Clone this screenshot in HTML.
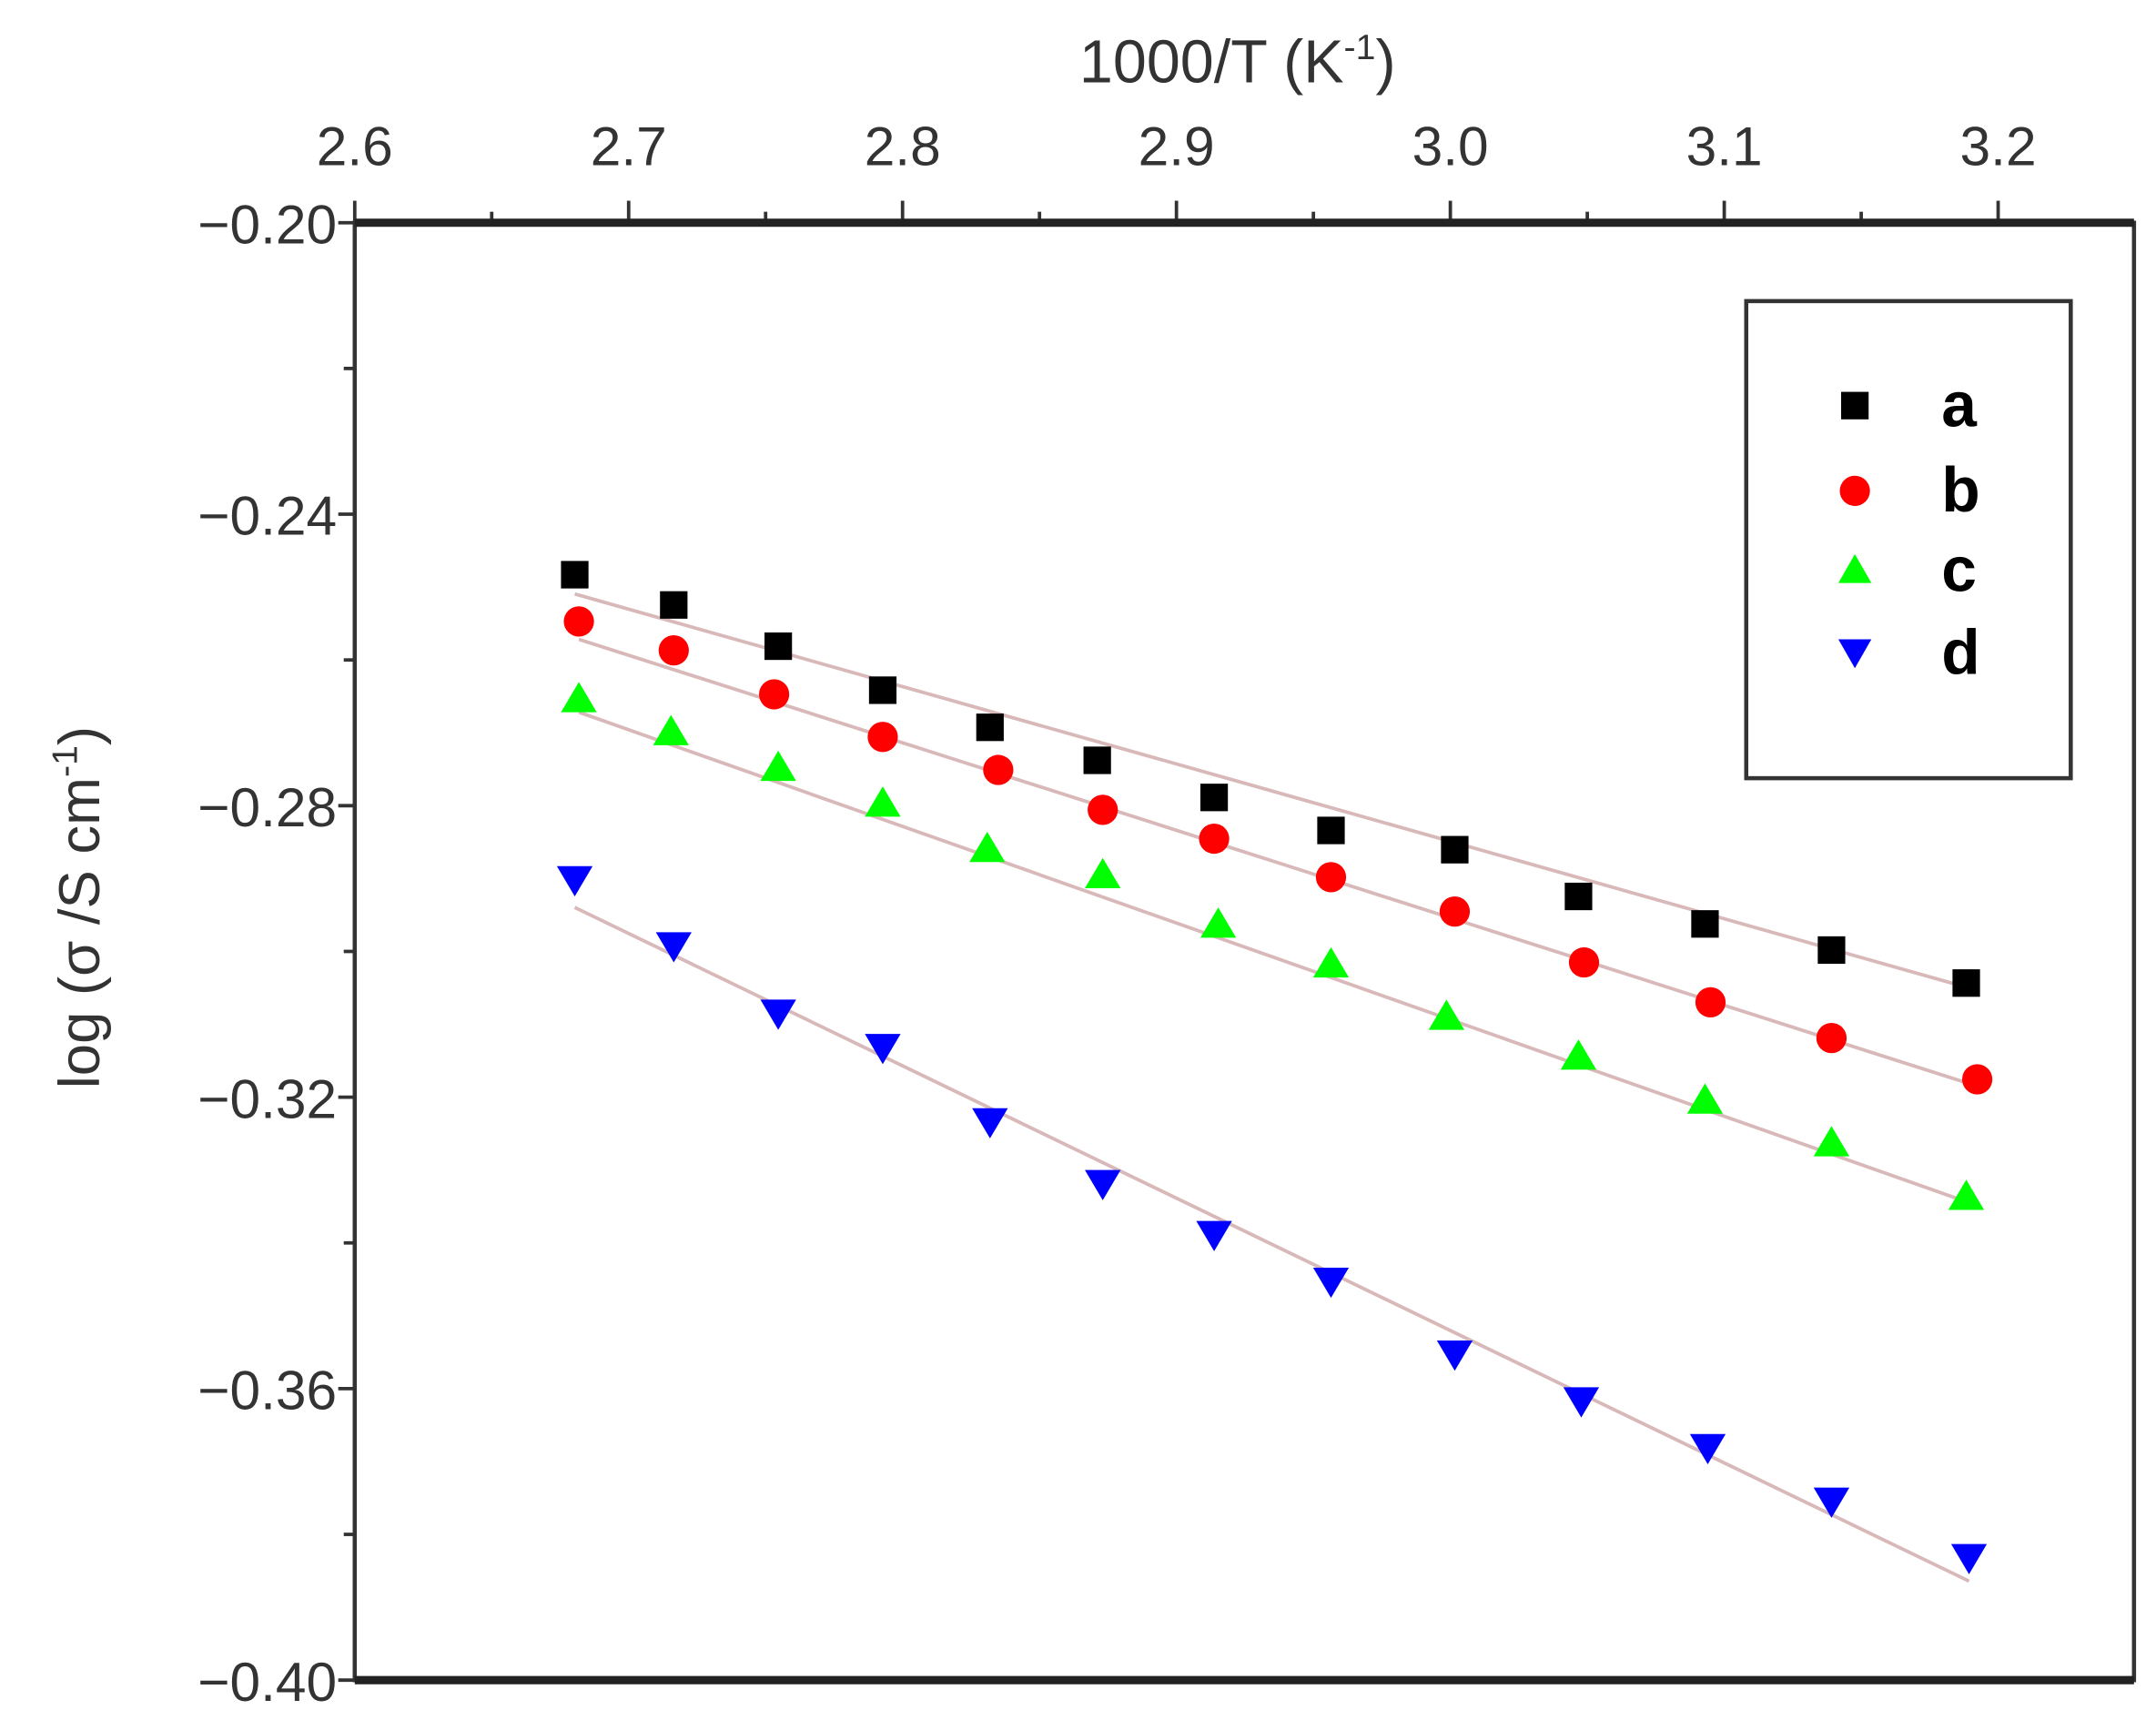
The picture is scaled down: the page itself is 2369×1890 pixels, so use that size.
<!DOCTYPE html>
<html><head><meta charset="utf-8"><style>html,body{margin:0;padding:0;background:#fff;}svg{display:block}</style></head>
<body>
<svg id="s" width="2369" height="1890" viewBox="0 0 1568 1251" preserveAspectRatio="none" xmlns="http://www.w3.org/2000/svg" font-family="Liberation Sans, sans-serif">
<rect width="1568" height="1251" fill="#fff"/>
<text x="900" y="60" font-size="44" text-anchor="middle" fill="#333">1000/T (K<tspan font-size="26" dy="-17">-1</tspan><tspan dy="17">)</tspan></text>
<g id="g"></g>
<rect x="258" y="162" width="1294" height="1060" fill="none" stroke="#333" stroke-width="3"/>
<line x1="258" y1="162" x2="1552" y2="162" stroke="#222" stroke-width="6"/>
<line x1="258" y1="1222" x2="1552" y2="1222" stroke="#222" stroke-width="6"/>
<text transform="translate(72,660) rotate(-90)" font-size="42" text-anchor="middle" fill="#333">log (σ /S cm<tspan font-size="26" dy="-16">-1</tspan><tspan dy="16">)</tspan></text>
<rect x="1270" y="219" width="236" height="347" fill="#fff" stroke="#333" stroke-width="3"/>
<rect x="1339" y="285" width="20" height="20" fill="#000"/>
<circle cx="1349" cy="357" r="11" fill="#f00"/>
<polygon points="1349,403 1361,424 1337,424" fill="#0f0"/>
<polygon points="1337,465 1361,465 1349,486" fill="#00f"/>
<g font-size="46" font-weight="bold" fill="#000">
<text x="1412" y="310">a</text><text x="1412" y="372">b</text><text x="1412" y="430">c</text><text x="1412" y="490">d</text>
</g>
</svg>
<script>
const g=document.getElementById('g');let h='';
for(let i=0;i<=12;i++){const x=258+i*99.6;const maj=i%2==0;h+=`<line x1="${x}" y1="162" x2="${x}" y2="${maj?146:154}" stroke="#333" stroke-width="2.5"/>`;
if(maj)h+=`<text x="${x}" y="120" font-size="40" text-anchor="middle" fill="#333">${(2.6+i*0.05).toFixed(1)}</text>`;}
for(let i=0;i<=10;i++){const y=162+i*106;const maj=i%2==0;h+=`<line x1="258" y1="${y}" x2="${maj?246:250}" y2="${y}" stroke="#333" stroke-width="2.5"/>`;
if(maj)h+=`<text x="245" y="${y+15}" font-size="40" text-anchor="end" fill="#333">−${(0.20+i*0.02).toFixed(2)}</text>`;}
const L=[[418,432,1430,718],[421,465,1438,790],[421,518,1430,874],[418,660,1432,1150]];
for(const l of L)h+=`<line x1="${l[0]}" y1="${l[1]}" x2="${l[2]}" y2="${l[3]}" stroke="#d8b8b8" stroke-width="2.5"/>`;
const A=[[418,418],[490,440],[566,470],[642,502],[720,529],[798,553],[883,580],[968,604],[1058,618],[1148,652],[1240,672],[1332,691],[1430,715]];
const B=[[421,452],[490,473],[563,505],[642,536],[726,560],[802,589],[883,610],[968,638],[1058,663],[1152,700],[1244,729],[1332,755],[1438,785]];
const C=[[421,508],[488,532],[566,558],[642,584],[718,617],[802,636],[886,672],[968,701],[1052,739],[1148,768],[1240,800],[1332,831],[1430,870]];
const D=[[418,640],[490,688],[566,737],[642,762],[720,816],[802,861],[883,898],[968,932],[1058,985],[1150,1019],[1242,1053],[1332,1092],[1432,1133]];
for(const[x,y]of A)h+=`<rect x="${x-10}" y="${y-10}" width="20" height="20" fill="#000"/>`;
for(const[x,y]of B)h+=`<circle cx="${x}" cy="${y}" r="11" fill="#f00"/>`;
for(const[x,y]of C)h+=`<polygon points="${x},${y-12} ${x+13},${y+10} ${x-13},${y+10}" fill="#0f0"/>`;
for(const[x,y]of D)h+=`<polygon points="${x-13},${y-10} ${x+13},${y-10} ${x},${y+12}" fill="#00f"/>`;
g.innerHTML=h;
</script>
</body></html>
